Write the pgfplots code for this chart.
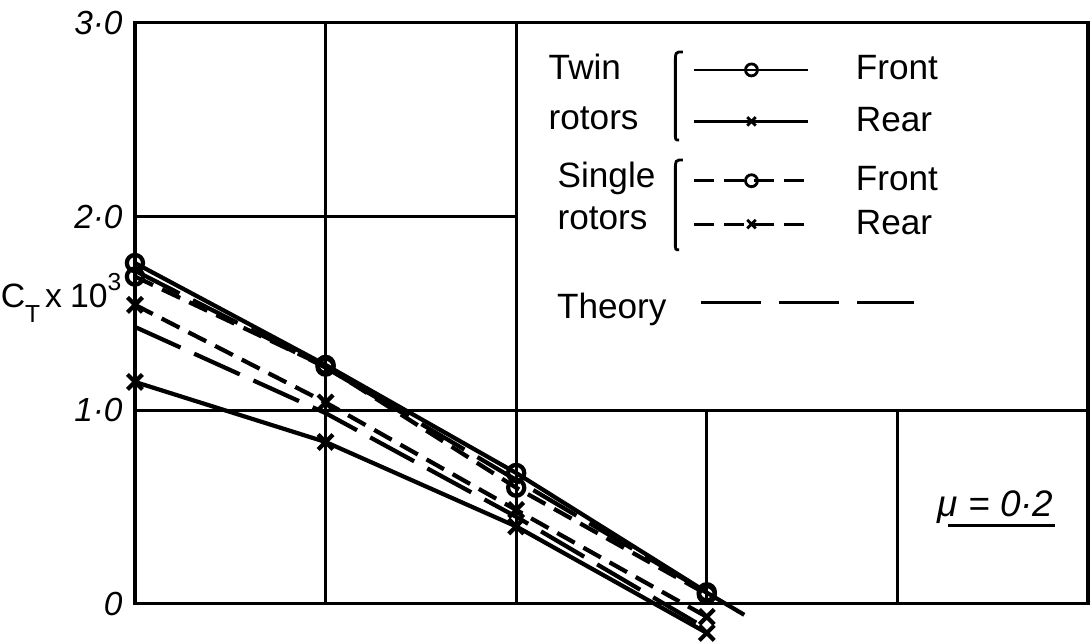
\documentclass[border=0pt]{standalone}
\usepackage{fontspec}
\setmainfont{Liberation Sans}
\usepackage{pgfplots}
\pgfplotsset{compat=1.18}
\pgfplotsset{
  % key sample: line with a mark in the middle, plus room below the row
  key sample/.style={
    legend image code/.code={
      \draw[mark repeat=2, mark phase=2, ##1]
        plot coordinates {(0cm,0cm) (0.57cm,0cm) (1.14cm,0cm)};
      \path (0cm,-#1);
    }
  },
  theory key/.style={
    legend image code/.code={
      \draw[overlay, ##1, dash pattern=on 0.6cm off 0.18cm] (0.07cm,-0.35cm) -- (2.2cm,-0.35cm);
      \node[overlay, anchor=base east, inner sep=0pt, text height=, text depth=] at (-0.28cm,-0.51cm) {Theory};
    }
  }
}
\begin{document}
\begin{tikzpicture}
\begin{axis}[
  scale only axis, width=9.53cm, height=5.81cm,
  xmin=0, xmax=5, ymin=0, ymax=3,
  xtick={0,1,2,3,4,5}, xticklabels={},
  ytick={0,1,2,3}, yticklabels={0,1·0,2·0,3·0},
  yticklabel style={font=\itshape\fontsize{9.5}{11}\selectfont},
  major tick length=0pt,
  grid=major, major grid style={black, line width=0.8pt},
  axis line style={black, line width=0.9pt},
  clip=false,
  set layers, mark layer=axis foreground,
  legend cell align=left,
  legend style={draw=none, fill=none, at={(axis cs:2.928,2.85)}, anchor=north west,
    inner sep=0pt, outer sep=0pt, row sep=0.06cm, column sep=0.46cm,
    font=\fontsize{10}{12}\selectfont,
    nodes={inner sep=0pt, text height=0.28cm, text depth=0.08cm}},
  legend image post style={line width=0.8pt, mark size=1.7pt},
  every axis plot/.append style={black, line width=1.2pt},
]
% key box in the upper right, hiding the grid behind it
\draw[fill=white, line width=0.9pt] (axis cs:2,1) rectangle (axis cs:5,3);

% twin rotors
\addplot[solid, mark=o, mark size=2.3pt, mark options={solid, fill=white}, key sample=0.26cm]
  coordinates {(0,1.76) (1,1.234) (2,0.676) (3,0.06)};
\addlegendentry{Front}
\addplot[solid, mark=x, mark size=3pt, mark options={solid}, key sample=0.34cm]
  coordinates {(0,1.146) (1,0.836) (2,0.40) (3,-0.15)};
\addlegendentry{Rear}

% single rotors
\addplot[dash pattern=on 0.2cm off 0.1cm, mark=o, mark size=2.3pt, mark options={solid, fill=white}, key sample=0.18cm]
  coordinates {(0,1.69) (1,1.225) (2,0.60) (3,0.05)};
\addlegendentry{Front}
\addplot[dash pattern=on 0.2cm off 0.1cm, mark=x, mark size=3pt, mark options={solid}, key sample=0.18cm]
  coordinates {(0,1.544) (1,1.04) (2,0.485) (3,-0.067)};
\addlegendentry{Rear}

% theory
\addplot[dash pattern=on 0.5cm off 0.15cm, theory key]
  coordinates {(0,1.72) (1,1.22) (2,0.64) (3.22,-0.07)};
\addlegendentry{}
\addplot[dash pattern=on 0.5cm off 0.15cm, forget plot]
  coordinates {(0,1.43) (1,0.985) (2,0.45) (2.95,-0.10)};

% group labels and brackets of the key
\node[anchor=base west, inner sep=0pt] at (axis cs:2.167,2.705) {Twin};
\node[anchor=base west, inner sep=0pt] at (axis cs:2.167,2.447) {rotors};
\node[anchor=base west, inner sep=0pt] at (axis cs:2.214,2.148) {Single};
\node[anchor=base west, inner sep=0pt] at (axis cs:2.214,1.931) {rotors};
\draw[line width=0.8pt] (axis cs:2.875,2.85) .. controls (axis cs:2.835,2.85) .. (axis cs:2.835,2.79)
  -- (axis cs:2.835,2.43) .. controls (axis cs:2.835,2.395) .. (axis cs:2.855,2.395);
\draw[line width=0.8pt] (axis cs:2.875,2.292) .. controls (axis cs:2.835,2.292) .. (axis cs:2.835,2.235)
  -- (axis cs:2.835,1.865) .. controls (axis cs:2.835,1.828) .. (axis cs:2.855,1.828);

% advance ratio
\node[anchor=base west, inner sep=0pt, font=\itshape\fontsize{10.5}{12}\selectfont]
  at (axis cs:4.208,0.449) {μ = 0·2};
\draw[line width=0.9pt] (axis cs:4.266,0.403) -- (axis cs:4.827,0.403);

% ordinate label
\node[anchor=base east, inner sep=0pt, font=\fontsize{9.6}{12}\selectfont]
  at (axis cs:-0.068,1.528)
  {C\raisebox{-0.15cm}{\scriptsize T}\hspace{0.05cm}x\hspace{0.08cm}10\raisebox{0.17cm}{\scriptsize 3}};

\coordinate (bbsw) at (axis cs:-0.708,-0.196);
\coordinate (bbne) at (axis cs:5.0105,3.118);
\end{axis}
\pgfresetboundingbox
\path[use as bounding box] (bbsw) rectangle (bbne);
\end{tikzpicture}
\end{document}
